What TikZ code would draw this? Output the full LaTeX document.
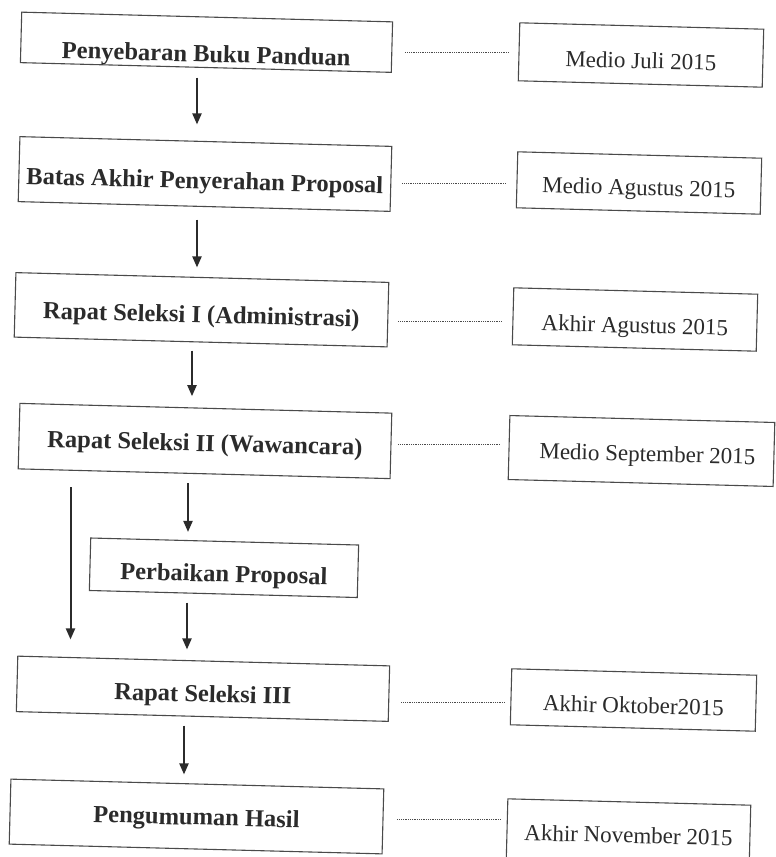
\documentclass[tikz,border=0pt]{standalone}
\usepackage{fontspec}
\setmainfont{Liberation Serif}
\usetikzlibrary{arrows.meta}
\definecolor{ink}{HTML}{2B2B2B}
\definecolor{frame}{HTML}{4A4A4A}
\tikzset{
  stepbox/.style={draw=frame, line width=1.1pt, rectangle, inner sep=0pt, text=ink,
    font=\fontsize{24.5}{28}\selectfont\bfseries, rotate=-1.5},
  datebox/.style={draw=frame, line width=1.1pt, rectangle, inner sep=0pt, text=ink,
    font=\fontsize{23}{27}\selectfont, rotate=-1.5},
  arr/.style={draw=ink, line width=2pt, -{Triangle[width=9pt,length=11pt]}},
  dotline/.style={draw=frame, line width=0.9pt, dash pattern=on 0.9pt off 0.9pt},
}
\begin{document}
\begin{tikzpicture}[x=1pt,y=-1pt]
\useasboundingbox (0,0) rectangle (776,857);
\clip (0,0) rectangle (776,857);
% process boxes
\node[stepbox, minimum width=371pt, text height=45pt, text depth=5.5pt] (b1) at (206.5,42.25) {Penyebaran Buku Panduan};
\node[stepbox, minimum width=372pt, text height=47.3pt, text depth=17.7pt] (b2) at (205,174) {Batas Akhir Penyerahan Proposal};
\node[stepbox, minimum width=373pt, text height=45.2pt, text depth=19.3pt] (b3) at (201.5,309.75) {Rapat Seleksi I (Administrasi)};
\node[stepbox, minimum width=372pt, text height=43pt, text depth=22.5pt] (b4) at (205,441) {Rapat Seleksi II (Wawancara)};
\node[stepbox, minimum width=268pt, text height=40.5pt, text depth=12pt] (b5) at (224,567.75) {Perbaikan Proposal};
\node[stepbox, minimum width=372pt, text height=40.9pt, text depth=14.6pt] (b6) at (203,688.75) {Rapat Seleksi III};
\node[stepbox, minimum width=373pt, text height=41pt, text depth=24pt] (b7) at (196.5,816.5) {Pengumuman Hasil};
% date boxes
\node[datebox, minimum width=244pt, text height=42.5pt, text depth=15.5pt] (r1) at (641,55) {Medio Juli 2015};
\node[datebox, minimum width=244pt, text height=40.2pt, text depth=15.8pt] (r2) at (639,183) {Medio Agustus 2015};
\node[datebox, minimum width=244pt, text height=42pt, text depth=15pt] (r3) at (635,319.5) {Akhir Agustus 2015\hspace{22pt}};
\node[datebox, minimum width=265pt, text height=42.4pt, text depth=21.6pt] (r4) at (641.5,451) {\hspace{12pt}Medio September 2015};
\node[datebox, minimum width=245pt, text height=41.3pt, text depth=14.7pt] (r5) at (633.5,700) {Akhir Oktober2015};
\node[datebox, minimum width=243pt, text height=41pt, text depth=21pt] (r6) at (628.5,833) {Akhir November 2015};
% arrow columns
\coordinate (x1) at (197,0);
\coordinate (x2) at (197,0);
\coordinate (x3) at (192,0);
\coordinate (x4) at (70.5,0);
\coordinate (x5) at (188,0);
\coordinate (x6) at (187,0);
\coordinate (x7) at (184,0);
\draw[arr, shorten <=9.5pt, shorten >=16.5pt] (b1.south -| x1) -- (b2.north -| x1);
\draw[arr, shorten <=12.5pt, shorten >=9.5pt] (b2.south -| x2) -- (b3.north -| x2);
\draw[arr, shorten <=8pt, shorten >=11.5pt] (b3.south -| x3) -- (b4.north -| x3);
\draw[arr, shorten <=13pt, shorten >=21pt] (b4.south -| x4) -- (b6.north -| x4);
\draw[arr, shorten <=9pt, shorten >=9pt] (b4.south -| x5) -- (b5.north -| x5);
\draw[arr, shorten <=8pt, shorten >=11pt] (b5.south -| x6) -- (b6.north -| x6);
\draw[arr, shorten <=8.5pt, shorten >=9pt] (b6.south -| x7) -- (b7.north -| x7);
% dotted leaders
\coordinate (d1) at (0,52);
\coordinate (d2) at (0,183);
\coordinate (d3) at (0,321);
\coordinate (d4) at (0,444);
\coordinate (d5) at (0,702);
\coordinate (d6) at (0,819);
\draw[dotline, shorten <=13pt, shorten >=10pt] (b1.east |- d1) -- (r1.west |- d1);
\draw[dotline, shorten <=11pt, shorten >=10pt] (b2.east |- d2) -- (r2.west |- d2);
\draw[dotline, shorten <=10pt, shorten >=11pt] (b3.east |- d3) -- (r3.west |- d3);
\draw[dotline, shorten <=7pt, shorten >=9pt] (b4.east |- d4) -- (r4.west |- d4);
\draw[dotline, shorten <=12pt, shorten >=6pt] (b6.east |- d5) -- (r5.west |- d5);
\draw[dotline, shorten <=14pt, shorten >=5pt] (b7.east |- d6) -- (r6.west |- d6);
\end{tikzpicture}
\end{document}
